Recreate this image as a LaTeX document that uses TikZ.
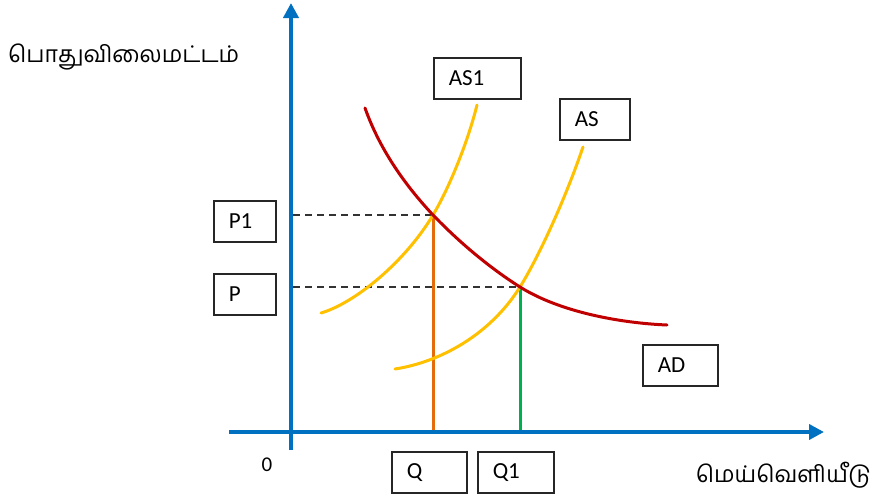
\documentclass[tikz,border=0pt]{standalone}
\usepackage{fontspec}
\usetikzlibrary{arrows.meta}
\newfontfamily\tamilfont[Script=Tamil]{Hind Madurai}
\newfontfamily\lblfont{Carlito}
\definecolor{axisblue}{HTML}{0070C0}
\definecolor{adred}{HTML}{C00000}
\definecolor{asyellow}{HTML}{FFC000}
\definecolor{qorange}{HTML}{E46C0A}
\definecolor{qgreen}{HTML}{00B050}
\definecolor{boxc}{HTML}{262626}
\tikzset{
  lbox/.style={draw=boxc, line width=1.5pt, anchor=north west, minimum height=41pt,
    inner xsep=15pt, inner ysep=0pt, align=left, font=\lblfont\fontsize{23}{26}\selectfont},
  axisline/.style={draw=axisblue, line width=4pt, -{Triangle[length=15pt,width=15pt]}},
  curve/.style={line width=3pt, line cap=round},
  guide/.style={draw=black!80, line width=1.4pt, dash pattern=on 7pt off 5pt},
  tamiltext/.style={font=\tamilfont\fontsize{23}{27}\selectfont, inner sep=0pt}
}
\begin{document}
\begin{tikzpicture}[x=1pt,y=-1pt]
\useasboundingbox (0,0) rectangle (873,499);
% key points
\coordinate (E1) at (433,215);
\coordinate (E2) at (520,287);
\coordinate (Yax1) at (293,215);
\coordinate (Yax2) at (293,287);
\coordinate (Q0) at (433,432);
\coordinate (Q10) at (520,432);
% guides
\draw[guide] (Yax1) -- (E1);
\draw[guide] (Yax2) -- (E2);
\draw[qorange, line width=3pt] (E1) -- (Q0);
\draw[qgreen, line width=3pt] (E2) -- (Q10);
% curves
\draw[curve, asyellow] (321,313) .. controls (355,303) and (405,262) .. (E1)
  .. controls (448,190) and (467,145) .. (477,105);
\draw[curve, asyellow] (395,369) .. controls (440,362) and (490,335) .. (E2)
  .. controls (538,258) and (565,200) .. (583,147);
\draw[curve, adred] (365,108) .. controls (380,150) and (405,185) .. (E1)
  .. controls (460,243) and (490,268) .. (E2)
  .. controls (560,312) and (620,323) .. (667,325);
% axes
\coordinate (Ybot) at (291,450);
\coordinate (Ytop) at (291,3);
\coordinate (Xleft) at (229,432);
\coordinate (Xright) at (824,432);
\draw[axisline] (Ybot) -- (Ytop);
\draw[axisline] (Xleft) -- (Xright);
% labels
\node[lbox, text width=32pt] (p1) at (213,200) {P1};
\node[lbox, text width=32pt] (p) at (213,273) {P};
\node[lbox, text width=45pt] (q) at (391,451) {Q};
\node[lbox, text width=46pt] (q1) at (477,451) {Q1};
\node[lbox, text width=57pt] (as1) at (433,57) {AS1};
\node[lbox, text width=40pt] (as) at (559,98) {AS};
\node[lbox, text width=45pt] (ad) at (642,344) {AD};
\node[font=\lblfont\fontsize{21}{24}\selectfont] (zero) at (267,465) {0};
\node[tamiltext, anchor=west] (ylab) at (8,57) {பொதுவிலைமட்டம்};
\node[tamiltext, anchor=east] (xlab) at (871,475) {மெய்வெளியீடு};
\end{tikzpicture}
\end{document}
